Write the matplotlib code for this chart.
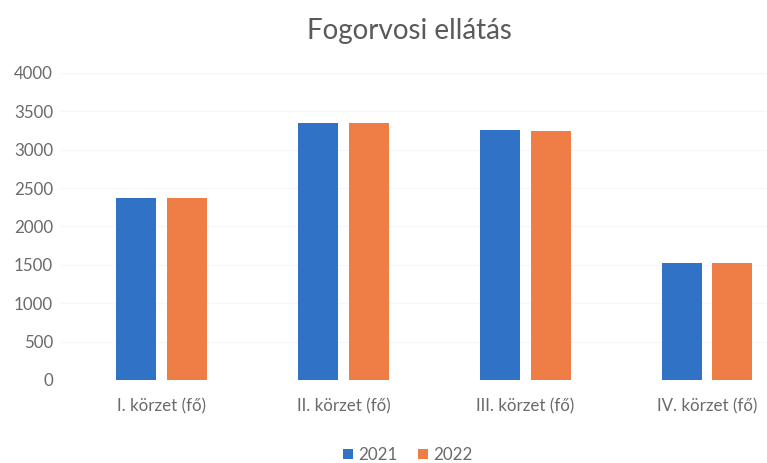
import matplotlib
matplotlib.use("Agg")
import matplotlib.pyplot as plt
import numpy as np

plt.rcParams['font.family'] = ['Lato', 'DejaVu Sans']

categories = ['I. körzet (fő)', 'II. körzet (fő)', 'III. körzet (fő)', 'IV. körzet (fő)']
years = ['2021', '2022']
values_2021 = [2370, 3350, 3255, 1520]
values_2022 = [2370, 3350, 3248, 1525]

blue = '#2f72c6'
orange = '#ee7d46'
grey = '#6a6a6a'

fig = plt.figure(figsize=(7.67, 4.63), dpi=100)
ax = fig.add_axes([60 / 767, 83 / 463, 707 / 767, 307 / 463])

x = np.arange(len(categories))
w = 0.22
ax.bar(x - 0.14, values_2021, w, color=blue, label=years[0], zorder=2)
ax.bar(x + 0.14, values_2022, w, color=orange, label=years[1], zorder=2)

ax.set_xlim(-0.56, 3.33)
ax.set_ylim(0, 4000)
ax.set_yticks(np.arange(0, 4001, 500))
ax.set_xticks(x)
ax.set_xticklabels(categories)
ax.tick_params(axis='both', length=0, labelsize=12.2, labelcolor=grey)
ax.tick_params(axis='x', pad=13)
ax.tick_params(axis='y', pad=5)
ax.grid(axis='y', color='#f7f7f7', linewidth=0.8, zorder=0)
for s in ax.spines.values():
    s.set_visible(False)

fig.text(409 / 767, 1 - 31 / 463, 'Fogorvosi ellátás', ha='center', va='center',
         fontsize=20, color='#5a5a5a')
fig.legend(loc='center', bbox_to_anchor=(408 / 767, 1 - 455 / 463), ncol=2, frameon=False,
           fontsize=12.2, labelcolor=grey, handlelength=0.6, handleheight=0.6,
           handletextpad=0.3, columnspacing=1.2)

fig.savefig('out.png', dpi=100)
